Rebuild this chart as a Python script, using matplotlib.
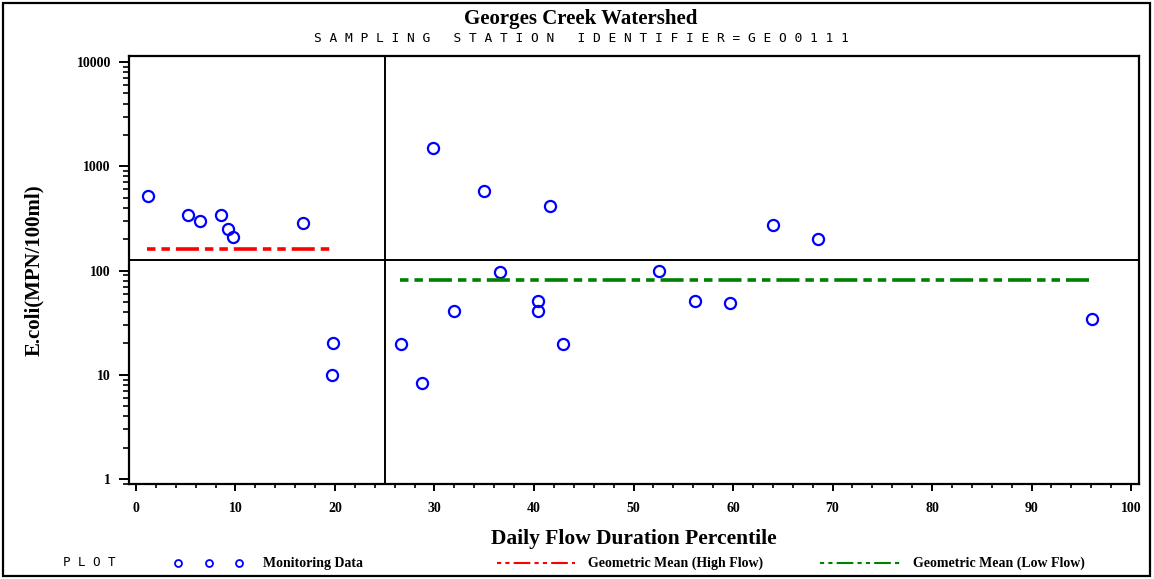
import matplotlib
matplotlib.use("Agg")
import matplotlib.pyplot as plt
from matplotlib.lines import Line2D
from matplotlib.patches import Rectangle
from matplotlib.ticker import FixedLocator, FixedFormatter, LogLocator, NullFormatter

# ---- data ----
percentile = [1.2, 5.2, 6.4, 8.5, 9.2, 9.8, 16.8, 19.7, 19.8,
              26.6, 28.7, 29.9, 32.0, 35.0, 36.6, 40.4, 40.4, 41.6, 42.9,
              52.6, 56.2, 59.7, 64.0, 68.5, 96.1]
ecoli = [524, 344, 300, 342, 249, 212, 284, 10, 20,
         19.8, 8.4, 1500, 40.7, 575, 96, 51, 40.7, 414, 19.8,
         98, 50.8, 48.5, 276, 199, 34]
high_flow_x = [1.1, 19.8]
high_flow_mean = 160
low_flow_x = [26.5, 96.2]
low_flow_mean = 82
flow_split = 25
standard = 126
xticks = [0, 10, 20, 30, 40, 50, 60, 70, 80, 90, 100]
xtick_labels = ["0", "10", "20", "30", "40", "50", "60", "70", "80", "90", "100"]
yticks = [1, 10, 100, 1000, 10000]
ytick_labels = ["1", "10", "100", "1000", "10000"]

plt.rcParams['lines.scale_dashes'] = False
W, H = 1154, 579
fig = plt.figure(figsize=(W / 100, H / 100), dpi=100)
ax = fig.add_axes([129 / W, 1 - 484 / H, 1010 / W, 428 / H])

serif = "Liberation Serif"
BLUE = "#0000FF"
RED = "#FF0000"
GREEN = "#008000"
pattern = (0, (6.1, 4.3, 6.1, 4.3, 16.6, 4.3))

ax.plot(percentile, ecoli, linestyle="none", marker="o", markersize=8,
        markerfacecolor="none", markeredgecolor=BLUE, markeredgewidth=1.6)
ax.plot(high_flow_x, [high_flow_mean] * 2, color=RED, lw=2.6,
        linestyle=pattern, solid_capstyle="butt", dash_capstyle="butt")
ax.plot(low_flow_x, [low_flow_mean] * 2, color=GREEN, lw=2.6,
        linestyle=pattern, solid_capstyle="butt", dash_capstyle="butt")
ax.axvline(flow_split, color="black", lw=1.4)
ax.axhline(standard, color="black", lw=1.4)

ax.set_yscale("log")
ax.set_xlim(-0.7, 100.8)
ax.set_ylim(10 ** -0.048, 10 ** 4.058)

ax.xaxis.set_major_locator(FixedLocator(xticks))
ax.xaxis.set_major_formatter(FixedFormatter(xtick_labels))
ax.xaxis.set_minor_locator(FixedLocator([v for v in range(0, 101, 2) if v % 10]))
ax.yaxis.set_major_locator(FixedLocator(yticks))
ax.yaxis.set_major_formatter(FixedFormatter(ytick_labels))
ax.yaxis.set_minor_locator(LogLocator(base=10, subs=range(2, 10)))
ax.yaxis.set_minor_formatter(NullFormatter())

ax.tick_params(axis="both", which="major", direction="out", width=1.4,
               labelsize=10, colors="black")
ax.tick_params(axis="y", which="major", length=7, pad=6)
ax.tick_params(axis="y", which="minor", length=4, width=1.2)
ax.tick_params(axis="x", which="major", length=5, pad=8)
ax.tick_params(axis="x", which="minor", length=3, width=1.2)
for lab in ax.get_xticklabels() + ax.get_yticklabels():
    lab.set_fontfamily(serif)
    lab.set_fontweight("bold")
for s in ax.spines.values():
    s.set_linewidth(1.6)

ax.set_ylabel("E.coli(MPN/100ml)", fontfamily=serif, fontweight="bold",
              fontsize=15)
ax.set_xlabel("Daily Flow Duration Percentile", fontfamily=serif,
              fontweight="bold", fontsize=15.5, labelpad=10)
ax.yaxis.set_label_coords(-85 / 1010, (484 - 270) / 428)

# titles
fig.text(581 / W, 1 - 19 / H, "Georges Creek Watershed", ha="center", va="center",
         fontfamily=serif, fontweight="bold", fontsize=15)
sub = "SAMPLING STATION IDENTIFIER=GEO0111"
fig.text(581 / W, 1 - 38 / H, " ".join(sub),
         ha="center", va="center", fontfamily="DejaVu Sans Mono", fontsize=9.3)

# legend (manual, SAS-style)
ly = 1 - 563 / H
fig.text(63 / W, ly, "P L O T", ha="left", va="center",
         fontfamily="DejaVu Sans Mono", fontsize=9)
for mx in (178, 209, 239):
    fig.add_artist(Line2D([mx / W], [ly], transform=fig.transFigure, marker="o",
                          markersize=5, markerfacecolor="none",
                          markeredgecolor=BLUE, markeredgewidth=1.3, linestyle="none"))
fig.text(263 / W, ly, "Monitoring Data", ha="left", va="center",
         fontfamily=serif, fontweight="bold", fontsize=10)
leg_pat = (0, (3, 3, 3, 3, 12, 3))
fig.add_artist(Line2D([497 / W, 575 / W], [ly, ly], transform=fig.transFigure,
                      color=RED, lw=1.5, linestyle=leg_pat))
fig.text(588 / W, ly, "Geometric Mean (High Flow)", ha="left", va="center",
         fontfamily=serif, fontweight="bold", fontsize=10)
fig.add_artist(Line2D([820 / W, 900 / W], [ly, ly], transform=fig.transFigure,
                      color=GREEN, lw=1.5, linestyle=leg_pat))
fig.text(913 / W, ly, "Geometric Mean (Low Flow)", ha="left", va="center",
         fontfamily=serif, fontweight="bold", fontsize=10)

# outer frame
fig.add_artist(Rectangle((3 / W, 3 / H), 1147 / W, 573 / H, transform=fig.transFigure,
                         fill=False, edgecolor="black", lw=1.6))

fig.savefig("out.png", dpi=100)
